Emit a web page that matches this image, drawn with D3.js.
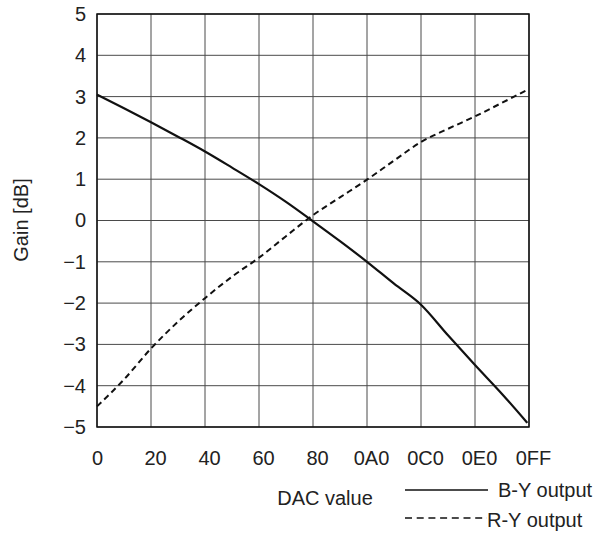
<!DOCTYPE html>
<html>
<head>
<meta charset="utf-8">
<script src="https://cdn.jsdelivr.net/npm/d3@7"></script>
<style>
  body { margin: 0; background: #fff; }
  text { font-family: "Liberation Sans", Arial, sans-serif; fill: #222; }
</style>
</head>
<body>
<svg id="chart" width="601" height="537"></svg>
<script>
// tick labels (hex DAC codes) and gain ticks
const xTickLabels = ["0", "20", "40", "60", "80", "0A0", "0C0", "0E0", "0FF"];
const yTicks = [-5, -4, -3, -2, -1, 0, 1, 2, 3, 4, 5];

// DAC code (decimal)
const dacValues = [0, 16, 32, 48, 64, 80, 96, 112, 128, 144, 160, 176, 192, 208, 224, 240, 255];
// B-Y output gain [dB]
const byGain = [3.05, 2.72, 2.38, 2.03, 1.67, 1.28, 0.88, 0.45, -0.02, -0.5, -1.0, -1.53, -2.04, -2.78, -3.5, -4.2, -4.9];
// R-Y output gain [dB]
const ryGain = [-4.5, -3.85, -3.1, -2.45, -1.88, -1.36, -0.9, -0.38, 0.13, 0.56, 0.99, 1.45, 1.9, 2.22, 2.52, 2.85, 3.16];

const legendItems = [
  { label: "B-Y output", dash: null },
  { label: "R-Y output", dash: "7,4.7" }
];

const svg = d3.select("#chart");
const margin = { left: 97, top: 14, right: 72, bottom: 110 };
const width = 601 - margin.left - margin.right;
const height = 537 - margin.top - margin.bottom;

const x = d3.scaleLinear().domain([0, 256]).range([0, width]);
const y = d3.scaleLinear().domain([-5, 5]).range([height, 0]);

const g = svg.append("g").attr("transform", `translate(${margin.left},${margin.top})`);

// grid lines
const xTickVals = xTickLabels.map((d, i) => i * 32);
g.append("g")
  .selectAll("line")
  .data(xTickVals)
  .join("line")
  .attr("x1", d => x(d)).attr("x2", d => x(d))
  .attr("y1", 0).attr("y2", height)
  .attr("stroke", "#4a4a4a").attr("stroke-width", 1);

g.append("g")
  .selectAll("line")
  .data(yTicks)
  .join("line")
  .attr("x1", 0).attr("x2", width)
  .attr("y1", d => y(d)).attr("y2", d => y(d))
  .attr("stroke", "#4a4a4a").attr("stroke-width", 1);

// frame
g.append("rect")
  .attr("width", width).attr("height", height)
  .attr("fill", "none").attr("stroke", "#111").attr("stroke-width", 1.5);

// axes (labels only)
const xAxis = d3.axisBottom(x)
  .tickValues(xTickVals)
  .tickFormat((d, i) => xTickLabels[i])
  .tickSize(0).tickPadding(24);
g.append("g").attr("transform", `translate(0,${height})`).call(xAxis)
  .call(a => a.select(".domain").remove())
  .selectAll("text")
  .style("font-size", "20px").attr("fill", "#222")
  .attr("dx", (d, i) => i === 0 ? 0 : 4);

const yAxis = d3.axisLeft(y)
  .tickValues(yTicks)
  .tickFormat(d => d < 0 ? "\u2212" + Math.abs(d) : d)
  .tickSize(0).tickPadding(11);
g.append("g").call(yAxis)
  .call(a => a.select(".domain").remove())
  .selectAll("text").style("font-size", "20px").attr("fill", "#222");

// curves
const line = d3.line()
  .x((d, i) => x(dacValues[i]))
  .y(d => y(d))
  .curve(d3.curveMonotoneX);

g.append("path").datum(byGain)
  .attr("d", line).attr("fill", "none")
  .attr("stroke", "#111").attr("stroke-width", 2.2);

g.append("path").datum(ryGain)
  .attr("d", line).attr("fill", "none")
  .attr("stroke", "#111").attr("stroke-width", 2)
  .attr("stroke-dasharray", "6,4");

// axis titles
svg.append("text")
  .attr("transform", "translate(28,220) rotate(-90)")
  .attr("text-anchor", "middle")
  .style("font-size", "20px")
  .text("Gain [dB]");

svg.append("text")
  .attr("x", 325).attr("y", 505)
  .attr("text-anchor", "middle")
  .style("font-size", "20px")
  .text("DAC value");

// legend
const legend = svg.append("g").attr("transform", "translate(405,490)");
legend.selectAll("line")
  .data(legendItems)
  .join("line")
  .attr("x1", 0)
  .attr("x2", (d, i) => i === 0 ? 83 : 82)
  .attr("y1", (d, i) => i * 28).attr("y2", (d, i) => i * 28)
  .attr("stroke", "#111").attr("stroke-width", 1.6)
  .attr("stroke-dasharray", d => d.dash);

legend.selectAll("text")
  .data(legendItems)
  .join("text")
  .attr("x", (d, i) => i === 0 ? 93 : 82)
  .attr("y", (d, i) => i === 0 ? 7 : 37)
  .style("font-size", "20px")
  .text(d => d.label);
</script>
</body>
</html>
